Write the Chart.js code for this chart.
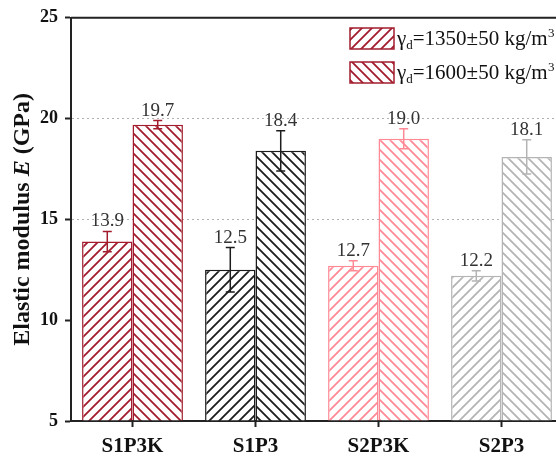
<!DOCTYPE html>
<html>
<head>
<meta charset="utf-8">
<script src="https://cdn.jsdelivr.net/npm/chart.js@4"></script>
<style>
  html, body { margin: 0; padding: 0; background: #fff; overflow: hidden; }
  canvas { display: block; }
</style>
</head>
<body>
<canvas id="modulusChart" width="563" height="458"></canvas>
<script>
// data
var categories = ['S1P3K', 'S1P3', 'S2P3K', 'S2P3'];
var lowDensity = [13.9, 12.5, 12.7, 12.2];
var lowDensityErr = [0.5, 1.1, 0.25, 0.25];
var highDensity = [19.7, 18.4, 19.0, 18.1];
var highDensityErr = [0.2, 1.0, 0.5, 0.85];
var seriesLabels = ['γd=1350±50 kg/m³', 'γd=1600±50 kg/m³'];
var yMin = 5, yMax = 25, yStep = 5;
var dottedAt = [15, 20];

var customColors = ['#a21c2e', '#1c1c1c', '#ff8a96', '#b4b4b4'];
var serif = "'Liberation Serif', 'Times New Roman', serif";

function hatch(color, dir) {
  var s = 10;
  var c = document.createElement('canvas');
  c.width = s; c.height = s;
  var g = c.getContext('2d');
  g.fillStyle = '#fff';
  g.fillRect(0, 0, s, s);
  g.strokeStyle = color;
  g.lineWidth = 1.8;
  g.beginPath();
  if (dir === '/') {
    g.moveTo(0, s); g.lineTo(s, 0);
    g.moveTo(-2, 2); g.lineTo(2, -2);
    g.moveTo(s - 2, s + 2); g.lineTo(s + 2, s - 2);
  } else {
    g.moveTo(0, 0); g.lineTo(s, s);
    g.moveTo(-2, s - 2); g.lineTo(2, s + 2);
    g.moveTo(s - 2, -2); g.lineTo(s + 2, 2);
  }
  g.stroke();
  var ctx = document.getElementById('modulusChart').getContext('2d');
  return ctx.createPattern(c, 'repeat');
}

var lowFill = customColors.map(function (c) { return hatch(c, '/'); });
var highFill = customColors.map(function (c) { return hatch(c, '\\'); });
var errors = [lowDensityErr, highDensityErr];

var errorBarsAndLabels = {
  id: 'errorBarsAndLabels',
  afterDatasetsDraw: function (chart) {
    var ctx = chart.ctx;
    var y = chart.scales.y;
    ctx.save();
    chart.data.datasets.forEach(function (ds, i) {
      var meta = chart.getDatasetMeta(i);
      meta.data.forEach(function (bar, j) {
        var v = ds.data[j], e = errors[i][j];
        var top = y.getPixelForValue(v + e);
        var bot = y.getPixelForValue(v - e);
        ctx.strokeStyle = customColors[j];
        ctx.lineWidth = 1.5;
        ctx.beginPath();
        ctx.moveTo(bar.x, top); ctx.lineTo(bar.x, bot);
        ctx.moveTo(bar.x - 4.5, top); ctx.lineTo(bar.x + 4.5, top);
        ctx.moveTo(bar.x - 4.5, bot); ctx.lineTo(bar.x + 4.5, bot);
        ctx.stroke();
        ctx.fillStyle = '#333';
        ctx.font = '19px ' + serif;
        ctx.textAlign = 'center';
        ctx.textBaseline = 'middle';
        ctx.fillText(v.toFixed(1), bar.x, top - 10);
      });
    });
    ctx.restore();
  },
  afterDraw: function (chart) {
    var ctx = chart.ctx;
    var a = chart.chartArea;
    ctx.save();
    // top frame line
    ctx.strokeStyle = '#222';
    ctx.lineWidth = 2;
    ctx.beginPath();
    ctx.moveTo(a.left, a.top); ctx.lineTo(a.right, a.top);
    ctx.lineTo(a.right, a.bottom);
    ctx.stroke();

    // legend
    seriesLabels.forEach(function (label, i) {
      var bx = 350, by = 28 + i * 34;
      ctx.fillStyle = i === 0 ? lowFill[0] : highFill[0];
      ctx.fillRect(bx, by, 44, 21);
      ctx.strokeStyle = customColors[0];
      ctx.lineWidth = 1.5;
      ctx.strokeRect(bx, by, 44, 21);
      var tx = bx + 47, base = by + 17;
      ctx.fillStyle = '#111';
      ctx.textAlign = 'left';
      ctx.textBaseline = 'alphabetic';
      ctx.font = '21px ' + serif;
      ctx.fillText(label.charAt(0), tx, base);
      tx += ctx.measureText(label.charAt(0)).width;
      ctx.font = '13px ' + serif;
      ctx.fillText(label.charAt(1), tx, base + 4);
      tx += ctx.measureText(label.charAt(1)).width;
      var mid = label.slice(2, -1);
      ctx.font = '21px ' + serif;
      ctx.fillText(mid, tx, base);
      tx += ctx.measureText(mid).width;
      ctx.font = '13px ' + serif;
      ctx.fillText('3', tx + 0.5, base - 8);
    });

    // y axis title with italic E
    var parts = [['Elastic modulus ', 'bold '], ['E', 'italic bold '], [' (GPa)', 'bold ']];
    ctx.translate(23, (a.top + a.bottom) / 2);
    ctx.rotate(-Math.PI / 2);
    ctx.fillStyle = '#111';
    ctx.textBaseline = 'middle';
    var total = 0;
    parts.forEach(function (p) {
      ctx.font = p[1] + '24px ' + serif;
      total += ctx.measureText(p[0]).width;
    });
    var x = -total / 2;
    parts.forEach(function (p) {
      ctx.font = p[1] + '24px ' + serif;
      ctx.fillText(p[0], x, 0);
      x += ctx.measureText(p[0]).width;
    });
    ctx.restore();
  }
};

var ctx = document.getElementById('modulusChart');
var myChart = new Chart(ctx, {
  type: 'bar',
  data: {
    labels: categories,
    datasets: [{
      label: seriesLabels[0],
      data: lowDensity,
      backgroundColor: lowFill,
      borderColor: customColors,
      borderWidth: 1.5,
      base: yMin
    }, {
      label: seriesLabels[1],
      data: highDensity,
      backgroundColor: highFill,
      borderColor: customColors,
      borderWidth: 1.5,
      base: yMin
    }]
  },
  options: {
    responsive: false,
    animation: false,
    categoryPercentage: 0.82,
    barPercentage: 1.0,
    layout: { padding: { left: 0, top: 16, right: 0, bottom: 0 } },
    plugins: {
      legend: { display: false },
      tooltip: { enabled: false }
    },
    scales: {
      x: {
        afterFit: function (scale) { scale.height = 37; },
        grid: {
          drawOnChartArea: false,
          drawTicks: true,
          offset: false,
          tickLength: 6,
          tickColor: '#222',
          tickWidth: 2
        },
        border: { color: '#222', width: 2 },
        ticks: {
          color: '#111',
          padding: 7,
          font: { family: serif, size: 21, weight: 'bold' }
        }
      },
      y: {
        min: yMin,
        max: yMax,
        afterFit: function (scale) { scale.width = 71; },
        ticks: {
          stepSize: yStep,
          color: '#111',
          padding: 7,
          font: { family: serif, size: 18, weight: 'bold' }
        },
        grid: {
          color: function (c) {
            return dottedAt.indexOf(c.tick.value) >= 0 ? '#b0b0b0' : 'rgba(0,0,0,0)';
          },
          lineWidth: 1,
          tickLength: 6,
          tickColor: '#222',
          tickWidth: 2
        },
        border: { color: '#222', width: 2, dash: [2, 3] }
      }
    }
  },
  plugins: [errorBarsAndLabels]
});
</script>
</body>
</html>
